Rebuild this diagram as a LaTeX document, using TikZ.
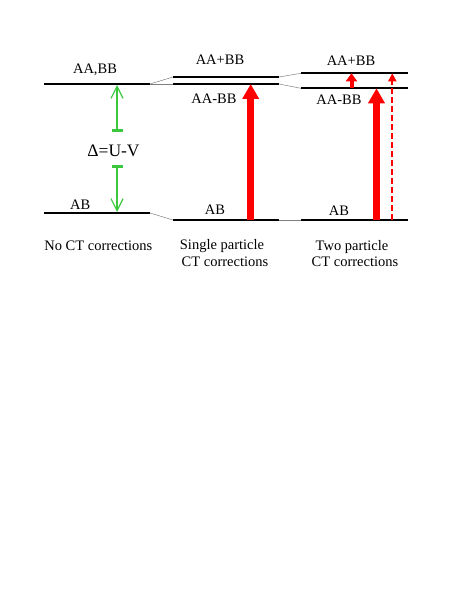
\documentclass[tikz,border=0pt]{standalone}
\usepackage{fontspec}
\setmainfont{Liberation Serif}
\usetikzlibrary{arrows.meta}
\definecolor{gapgreen}{RGB}{60,200,60}
\definecolor{ctred}{RGB}{255,0,0}
\begin{document}
\begin{tikzpicture}[x=1pt,y=-1pt,
  level/.style={line width=1.8pt},
  link/.style={gray,line width=0.5pt},
  lbl/.style={font=\fontsize{14.5}{17}\selectfont,inner sep=0pt,anchor=base},
  gap/.style={gapgreen,line width=1.2pt},
  ct/.style={ctred,line width=7pt,-{Triangle[width=16pt,length=15pt]}}]
\useasboundingbox (0,0) rectangle (463,599);

% no CT corrections
\draw[level] (44,84) coordinate (ul) -- (150,84) coordinate (ur);
\draw[level] (44,213) coordinate (ll) -- (150,213) coordinate (lr);
\node[lbl] (aabb) at (95,74) {AA,BB};
\node[lbl] (ab1) at (80.3,209.5) {AB};
\coordinate (gtop) at (117,85);
\coordinate (gbar1) at (117,132);
\coordinate (gbar2) at (117,165);
\coordinate (gbot) at (117,212);
\draw[gap,{Bar[width=11pt,line width=2.6pt]}-{Straight Barb[length=12pt,width=12pt]}] (gbar1) -- (gtop);
\draw[gap,{Bar[width=11pt,line width=2.6pt]}-{Straight Barb[length=12pt,width=12pt]}] (gbar2) -- (gbot);
\node[lbl,font=\fontsize{17.5}{20}\selectfont] (delta) at (113.5,156) {Δ=U-V};
\node[lbl] (cap1) at (98.3,250.5) {No CT corrections};

% single particle CT corrections
\draw[level] (173,77) coordinate (sul) -- (279,77) coordinate (sur);
\draw[level] (173,84) coordinate (sml) -- (279,84) coordinate (smr);
\draw[level] (173,220) coordinate (sll) -- (279,220) coordinate (slr);
\draw[link] (ur) -- (sul);
\draw[link] (ur) -- (sml);
\draw[link] (lr) -- (sll);
\node[lbl] (splus) at (220,64.5) {AA+BB};
\node[lbl] (sminus) at (214,103) {AA-BB};
\node[lbl] (ab2) at (215,214.5) {AB};
\coordinate (sfrom) at (250.7,220);
\coordinate (sto) at (250.7,84);
\draw[ct] (sfrom) -- (sto);
\node[lbl] (cap2a) at (222,249.5) {Single particle};
\node[lbl] (cap2b) at (225,266) {CT corrections};

% two particle CT corrections
\draw[level] (301,73.3) coordinate (tul) -- (408,73.3) coordinate (tur);
\draw[level] (301,88.3) coordinate (tml) -- (408,88.3) coordinate (tmr);
\draw[level] (301,220) coordinate (tll) -- (408,220) coordinate (tlr);
\draw[link] (sur) -- (tul);
\draw[link] (smr) -- (tml);
\draw[link] (slr) -- (tll);
\node[lbl] (tplus) at (351,66) {AA+BB};
\node[lbl] (tminus) at (339,105) {AA-BB};
\node[lbl] (ab3) at (339,215.5) {AB};
\coordinate (tsfrom) at (351.5,88.3);
\coordinate (tsto) at (351.5,73.3);
\coordinate (tbfrom) at (376.5,220);
\coordinate (tbto) at (376.5,88.3);
\coordinate (tdfrom) at (392.3,220);
\coordinate (tdto) at (392.3,73.3);
\draw[ctred,line width=4pt,-{Triangle[width=11pt,length=8pt]}] (tsfrom) -- (tsto);
\draw[ct] (tbfrom) -- (tbto);
\draw[ctred,line width=2.2pt,dash pattern=on 6pt off 3pt,-{Triangle[width=8pt,length=8pt]}] (tdfrom) -- (tdto);
\node[lbl] (cap3a) at (352,250) {Two particle};
\node[lbl] (cap3b) at (355,266.5) {CT corrections};
\end{tikzpicture}
\end{document}
